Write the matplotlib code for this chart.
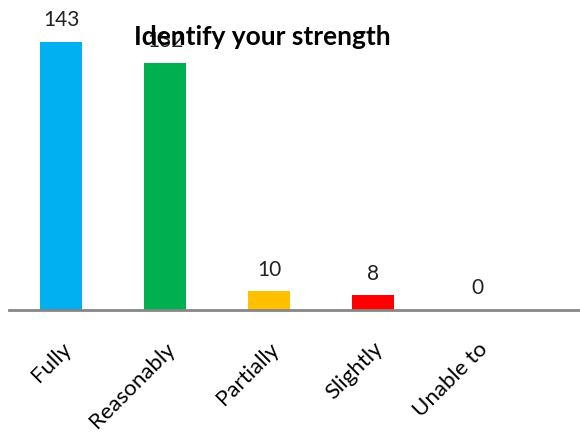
import numpy as np
import matplotlib.pyplot as plt

categories = ['Fully', 'Reasonably', 'Partially', 'Slightly', 'Unable to']
values = [143, 132, 10, 8, 0]
colors = ['#00B0F0', '#00B050', '#FFC000', '#FF0000', '#7F7F7F']

plt.rcParams['font.family'] = ['Lato', 'DejaVu Sans']

fig = plt.figure(figsize=(5.8, 4.39), dpi=100)
ax = fig.add_axes([9/580, 128/439, 571/580, 300/439])

x = np.arange(len(categories))
bars = ax.bar(x, values, width=0.4, color=colors)
ax.set_xlim(-0.5, 571/104 - 0.5)
ax.set_ylim(0, 160)

# value labels above bars
for xi, v in zip(x, values):
    ax.annotate(str(v), (xi, v), xytext=(0, 9), textcoords='offset points',
                ha='center', va='bottom', fontsize=15, color='#222222')

for s in ['top', 'right', 'left']:
    ax.spines[s].set_visible(False)
ax.spines['bottom'].set_color('#868686')
ax.spines['bottom'].set_linewidth(2)
ax.set_yticks([])
ax.set_xticks(x)
ax.set_xticklabels(categories, rotation=45, ha='right', rotation_mode='anchor', fontsize=16)
ax.tick_params(axis='x', length=0, pad=20)

fig.text(262/580, 1 - 37/439, 'Identify your strength', ha='center', va='center',
         fontsize=19, fontweight='bold')

fig.savefig('out.png', dpi=100)
